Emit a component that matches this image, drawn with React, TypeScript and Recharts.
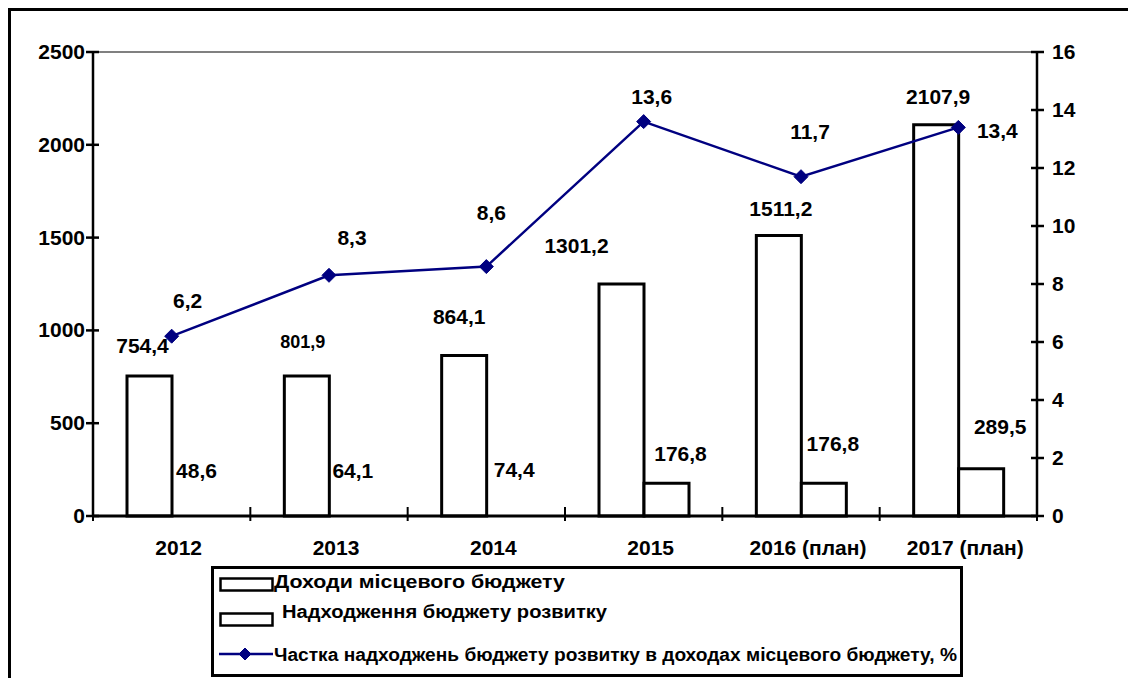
import React from "react";
import {
  ComposedChart,
  Bar,
  Line,
  XAxis,
  YAxis,
  LabelList,
  ReferenceLine,
  Rectangle,
} from "recharts";

// categories and values
const years = ["2012", "2013", "2014", "2015", "2016 (план)", "2017 (план)"];
// bar heights as they are drawn
const localIncome = [754.4, 754.4, 864.1, 1250, 1511.2, 2107.9];
const localIncomeLabels = ["754,4", "801,9", "864,1", "1301,2", "1511,2", "2107,9"];
const devBudget = [0, 0, 0, 176.8, 176.8, 255];
const devBudgetLabels = ["48,6", "64,1", "74,4", "176,8", "176,8", "289,5"];
const devShare = [6.2, 8.3, 8.6, 13.6, 11.7, 13.4];
const devShareLabels = ["6,2", "8,3", "8,6", "13,6", "11,7", "13,4"];

const leftTicks = [0, 500, 1000, 1500, 2000, 2500];
const rightTicks = [0, 2, 4, 6, 8, 10, 12, 14, 16];

const seriesNames = [
  "Доходи місцевого бюджету",
  "Надходження бюджету розвитку",
  "Частка надходжень бюджету розвитку в доходах місцевого бюджету, %",
];

const data = years.map((year, i) => ({
  year,
  income: localIncome[i],
  incomeLabel: localIncomeLabels[i],
  dev: devBudget[i],
  devLabel: devBudgetLabels[i],
  share: devShare[i],
  shareLabel: devShareLabels[i],
}));

// layout
const W = 1128;
const H = 670;
const LEFT_W = 85;
const RIGHT_W = 99;
const TOP = 44;
const PLOT_BOTTOM = 508;
const BAND = (W - LEFT_W - RIGHT_W) / years.length;
const FONT = "'Liberation Sans', Arial, sans-serif";
const NAVY = "#000080";
const FS = 21;

// hand placement of the data labels, relative to their bar top / point
const incomeShift = [[-7, -31], [-4, -34], [-5, -39], [-45, -39], [2, -27], [2, -28]];
const incomeSize = [FS, 18, FS, FS, FS, FS];
const devShift = [[2, -45], [1, -45], [5, -46], [14, -30], [9, -40], [19, -42]];
const shareShift = [[16, -36], [23, -38], [5, -54], [8, -25], [9, -45], [39, 3]];

const textStyle = { fontFamily: FONT, fontWeight: 700, fill: "#000" } as const;

function anchorOf(p: any) {
  const vb = p.viewBox || {};
  const x = p.x ?? vb.x ?? vb.cx;
  const y = p.y ?? vb.y ?? vb.cy;
  const w = p.width ?? vb.width ?? 0;
  return { x: Number(x), y: Number(y), w: Number(w) };
}

function makeLabel(shift: number[][], sizes?: number[]) {
  return (p: any) => {
    const { x, y, w } = anchorOf(p);
    const i = p.index;
    const size = sizes ? sizes[i] : FS;
    return (
      <text
        x={x + w / 2 + shift[i][0]}
        y={y + shift[i][1]}
        dy={size * 0.36}
        textAnchor="middle"
        fontSize={size}
        {...textStyle}
      >
        {p.value}
      </text>
    );
  };
}

// zero bars keep their label but draw no box
const DevShape = (p: any) =>
  p.payload && p.payload.dev === 0 ? <g /> : <Rectangle {...p} />;

const Diamond = ({ cx, cy, r = 7 }: any) => (
  <polygon
    points={`${cx},${cy - r} ${cx + r},${cy} ${cx},${cy + r} ${cx - r},${cy}`}
    fill={NAVY}
    stroke={NAVY}
  />
);

const CategoryTick = (p: any) => {
  const { x, y, payload, index } = p;
  const h = BAND / 2;
  return (
    <g>
      {index === 0 && (
        <line x1={x - h} x2={x - h} y1={y - 9} y2={y + 5} stroke="#000" strokeWidth={2} />
      )}
      <line x1={x + h} x2={x + h} y1={y - 9} y2={y + 5} stroke="#000" strokeWidth={2} />
      <text x={x + 7} y={y + 39} textAnchor="middle" fontSize={FS} {...textStyle}>
        {payload.value}
      </text>
    </g>
  );
};

const LeftTick = (p: any) => (
  <g>
    <line x1={p.x - 7} x2={p.x + 6} y1={p.y} y2={p.y} stroke="#000" strokeWidth={2.5} />
    <text x={p.x - 8} y={p.y} dy={7} textAnchor="end" fontSize={FS} {...textStyle}>
      {p.payload.value}
    </text>
  </g>
);

const RightTick = (p: any) => (
  <g>
    <line x1={p.x - 6} x2={p.x + 7} y1={p.y} y2={p.y} stroke="#000" strokeWidth={2.5} />
    <text x={p.x + 15} y={p.y} dy={7} textAnchor="start" fontSize={FS} {...textStyle}>
      {p.payload.value}
    </text>
  </g>
);

function LegendBox() {
  return (
    <svg
      width={760}
      height={116}
      style={{ position: "absolute", left: 201, top: 556, overflow: "visible" }}
    >
      <rect x={3.5} y={3.5} width={749} height={108} fill="#fff" stroke="#000" strokeWidth={3} />
      <rect x={11.5} y={14.5} width={52} height={12} fill="#fff" stroke="#000" strokeWidth={2.5} />
      <text x={65} y={24} fontSize={18} textLength={291} lengthAdjust="spacingAndGlyphs" {...textStyle}>
        {seriesNames[0]}
      </text>
      <rect x={11.5} y={49.5} width={52} height={12} fill="#fff" stroke="#000" strokeWidth={2.5} />
      <text x={73} y={54} fontSize={18} textLength={325} lengthAdjust="spacingAndGlyphs" {...textStyle}>
        {seriesNames[1]}
      </text>
      <line x1={10} x2={64} y1={90} y2={90} stroke={NAVY} strokeWidth={2.5} />
      <Diamond cx={36} cy={90} r={6} />
      <text x={65} y={97} fontSize={18} textLength={683} lengthAdjust="spacingAndGlyphs" {...textStyle}>
        {seriesNames[2]}
      </text>
    </svg>
  );
}

export default function App() {
  return (
    <div style={{ position: "relative", width: W, height: H, fontFamily: FONT }}>
      <div
        style={{
          position: "absolute",
          left: 0,
          top: 0,
          width: W,
          height: H,
          boxSizing: "border-box",
          borderTop: "3px solid #000",
          borderLeft: "3px solid #000",
        }}
      />
      <ComposedChart
        width={W}
        height={H}
        data={data}
        margin={{ top: TOP, right: 0, bottom: 0, left: 0 }}
        barGap={0}
        style={{ position: "absolute", left: 0, top: 0 }}
      >
        <XAxis
          dataKey="year"
          height={H - PLOT_BOTTOM}
          interval={0}
          tickLine={false}
          tickSize={0}
          tickMargin={0}
          axisLine={{ stroke: "#000", strokeWidth: 3 }}
          tick={<CategoryTick />}
        />
        <YAxis
          yAxisId="left"
          width={LEFT_W}
          domain={[0, 2500]}
          ticks={leftTicks}
          interval={0}
          tickLine={false}
          tickSize={0}
          tickMargin={0}
          axisLine={{ stroke: "#000", strokeWidth: 2.5 }}
          tick={<LeftTick />}
        />
        <YAxis
          yAxisId="right"
          orientation="right"
          width={RIGHT_W}
          domain={[0, 16]}
          ticks={rightTicks}
          interval={0}
          tickLine={false}
          tickSize={0}
          tickMargin={0}
          axisLine={{ stroke: "#000", strokeWidth: 2.5 }}
          tick={<RightTick />}
        />
        <ReferenceLine yAxisId="left" y={2500} stroke="#808080" strokeWidth={2} />
        <Bar
          yAxisId="left"
          dataKey="income"
          name={seriesNames[0]}
          barSize={45}
          fill="#fff"
          stroke="#000"
          strokeWidth={3}
          isAnimationActive={false}
        >
          <LabelList dataKey="incomeLabel" content={makeLabel(incomeShift, incomeSize)} />
        </Bar>
        <Bar
          yAxisId="left"
          dataKey="dev"
          name={seriesNames[1]}
          barSize={45}
          minPointSize={1}
          fill="#fff"
          stroke="#000"
          strokeWidth={3}
          shape={DevShape}
          isAnimationActive={false}
        >
          <LabelList dataKey="devLabel" content={makeLabel(devShift)} />
        </Bar>
        <Line
          yAxisId="right"
          type="linear"
          dataKey="share"
          name={seriesNames[2]}
          stroke={NAVY}
          strokeWidth={2.5}
          dot={(p: any) => <Diamond key={p.index} cx={p.cx} cy={p.cy} />}
          activeDot={false}
          isAnimationActive={false}
        >
          <LabelList dataKey="shareLabel" content={makeLabel(shareShift)} />
        </Line>
      </ComposedChart>
      <LegendBox />
    </div>
  );
}
